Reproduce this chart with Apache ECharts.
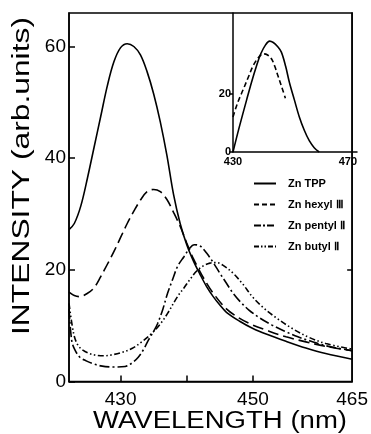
<!DOCTYPE html>
<html><head><meta charset="utf-8">
<script src="https://cdn.jsdelivr.net/npm/echarts@6/dist/echarts.min.js"></script>
<style>html,body{margin:0;padding:0;background:#fff}#c{width:371px;height:434px}</style>
</head><body><div id="c"></div>
<script>
// ---- main panel data (wavelength nm, intensity arb. units) ----
const wlTPP = [422.2, 423, 424, 425, 426, 427, 428, 429, 430, 431, 432, 433, 434, 435, 436, 437, 438, 439, 440, 441, 442, 443, 444, 445, 446, 448, 450, 452, 455, 458, 461, 465];
const valTPP = [27.2, 28.3, 31.5, 36.5, 42, 47.5, 53, 57.3, 59.8, 60.5, 60, 58.5, 55.5, 51.5, 46.5, 40.5, 33.5, 28.3, 24.5, 21.6, 19.2, 17, 15.2, 13.7, 12.4, 10.8, 9.5, 8.5, 7.2, 6, 5, 4];

const wlHex = [422.2, 423, 423.8, 425, 426, 427, 428, 429, 430, 431, 432, 433, 434, 435, 436, 437, 438, 439, 440, 441, 442, 443, 444, 446, 448, 450, 452, 455, 458, 461, 465];
const valHex = [16, 15.4, 15.2, 15.8, 16.8, 18.8, 21, 23.3, 25.8, 28.3, 30.5, 32.5, 34, 34.4, 34, 32.6, 30.3, 27.8, 24.8, 22, 19.7, 17.6, 15.8, 13, 11.3, 10.1, 9.2, 8, 7.1, 6.3, 5.5];

const wlPen = [422.2, 422.6, 423, 423.8, 424.8, 425.8, 427, 428.8, 430.7, 431.7, 432.7, 433.5, 434.2, 435, 435.6, 436.4, 437.1, 437.9, 438.6, 439.6, 440.4, 441.1, 442, 443, 444, 445, 446, 447, 448, 449.4, 451, 452.9, 454.8, 456.8, 458.8, 460.7, 462.7, 465];
const valPen = [13, 7.4, 5.9, 4.4, 3.7, 3.2, 2.8, 2.6, 2.7, 3.3, 4.4, 5.8, 7.4, 9, 10.4, 13, 15.8, 18.4, 20.6, 22.4, 23.8, 24.5, 24.3, 23, 21.3, 19.4, 17.6, 15.8, 14.4, 12.8, 11.4, 10.1, 9, 8, 7.2, 6.5, 6, 5.5];

const wlBut = [422.2, 422.9, 423.5, 424.3, 425.3, 426.3, 427.5, 428.8, 430.2, 431.7, 433.2, 434.7, 436, 437.1, 438.6, 439.6, 440.5, 441.5, 442.5, 443.5, 444.5, 445.5, 447, 448.5, 449.9, 451.5, 453.3, 455.8, 458.3, 461, 465];
const valBut = [14, 8.6, 6.6, 5.6, 5, 4.7, 4.6, 4.8, 5.2, 5.9, 7.1, 8.6, 10.3, 12.2, 15.2, 16.8, 18.3, 19.8, 20.7, 21.2, 21.3, 20.8, 19.4, 17.4, 15.2, 13.3, 11.6, 9.6, 8, 6.8, 5.8];

// ---- inset data ----
const wlInsetTPP = [430, 432, 434.4, 436, 437.6, 439, 440.5, 441.8, 443, 444.3, 445.6, 447, 448.2, 449.8, 451.4, 453, 454.6, 456.2, 457.8];
const valInsetTPP = [0, 8.5, 18, 24.2, 29.8, 34, 37, 38.3, 37.8, 36.5, 34.5, 29.5, 24, 18, 12.1, 7.5, 3.9, 1.5, 0];
const wlInsetHex = [430, 431.5, 433.3, 435, 436.5, 438, 439.7, 441, 442.4, 443.5, 444.5, 445.7, 446.9];
const valInsetHex = [12.1, 17, 21.6, 26, 29.8, 32.3, 33.9, 33.6, 32.2, 29.5, 26.3, 22.5, 18.6];

// ---- ticks / labels ----
const mainXTicks = [430, 440, 450];
const mainXLabels = [430, 450, 465];
const mainYLabels = [0, 20, 40, 60];
const insetXLabels = [430, 470];
const insetYLabels = [0, 20];
const names = ['Zn TPP', 'Zn hexyl Ⅲ', 'Zn pentyl Ⅱ', 'Zn butyl Ⅱ'];
const xTitle = 'WAVELENGTH (nm)';
const yTitle = 'INTENSITY (arb.units)';

const zip = (a, b) => a.map((v, i) => [v, b[i]]);
const FONT = '"Liberation Sans", Arial, sans-serif';

const dashes = {
  solid: 'solid',
  hex: [11, 5],
  pen: [10, 3, 2, 3],
  but: [6, 2.5, 1.5, 2.5, 1.5, 2.5],
  insetHex: [5, 3]
};

function mkLine(name, data, type, xi, yi) {
  return {
    name, type: 'line', data, xAxisIndex: xi, yAxisIndex: yi,
    symbol: 'none', smooth: 0.35, silent: true,
    itemStyle: { color: '#000' },
    lineStyle: { color: '#000', width: 1.6, type }
  };
}

function measure(text, font) {
  const c = document.createElement('canvas').getContext('2d');
  c.font = font;
  return c.measureText(text).width;
}
const xTitleSize = 23, yTitleSize = 23;
const xScale = 254 / measure(xTitle, xTitleSize + 'px "Liberation Sans"');
const yScale = 318 / measure(yTitle, yTitleSize + 'px "Liberation Sans"');

const chart = echarts.init(document.getElementById('c'), null, { renderer: 'canvas' });
chart.setOption({
  animation: false,
  backgroundColor: '#fff',
  grid: [
    { left: 69, top: 13, width: 288, height: 368.5, show: true, borderColor: '#000', borderWidth: 1.5, backgroundColor: 'transparent' },
    { left: 233, top: 13, width: 124, height: 139, show: false }
  ],
  xAxis: [
    {
      gridIndex: 0, type: 'value', min: 422.2, max: 465,
      axisLine: { lineStyle: { color: '#000', width: 1.5 } },
      axisTick: { inside: true, length: 6, customValues: mainXTicks, lineStyle: { color: '#000', width: 1.5 } },
      axisLabel: { customValues: mainXLabels, color: '#000', fontSize: 19, fontFamily: FONT, margin: 9 },
      splitLine: { show: false }
    },
    {
      gridIndex: 1, type: 'value', min: 430, max: 470,
      axisLine: { lineStyle: { color: '#000', width: 1.5 } },
      axisTick: { show: false },
      axisLabel: { customValues: insetXLabels, color: '#000', fontSize: 11, fontWeight: 'bold', fontFamily: FONT, margin: 4, alignMaxLabel: 'right' },
      splitLine: { show: false }
    }
  ],
  yAxis: [
    {
      gridIndex: 0, type: 'value', min: 0, max: 66, interval: 20,
      axisLine: { show: true, lineStyle: { color: '#000', width: 1.5 } },
      axisTick: { show: true, inside: true, length: 6, customValues: mainYLabels, lineStyle: { color: '#000', width: 1.5 } },
      axisLabel: { customValues: mainYLabels, color: '#000', fontSize: 19, fontFamily: FONT, margin: 3 },
      splitLine: { show: false }
    },
    {
      gridIndex: 0, type: 'value', min: 0, max: 66, position: 'right',
      axisLine: { show: true, lineStyle: { color: '#000', width: 1.5 } },
      axisTick: { show: true, inside: true, length: 5, customValues: [20], lineStyle: { color: '#000', width: 1.5 } },
      axisLabel: { show: false },
      splitLine: { show: false }
    },
    {
      gridIndex: 1, type: 'value', min: 0, max: 48,
      axisLine: { show: true, lineStyle: { color: '#000', width: 1.5 } },
      axisTick: { show: true, inside: false, length: 4, customValues: insetYLabels, lineStyle: { color: '#000', width: 1.5 } },
      axisLabel: { customValues: insetYLabels, color: '#000', fontSize: 11, fontWeight: 'bold', fontFamily: FONT, margin: 2 },
      splitLine: { show: false }
    }
  ],
  legend: {
    orient: 'vertical', left: 248, top: 173, itemWidth: 22, itemHeight: 10, itemGap: 10,
    selectedMode: false,
    itemStyle: { opacity: 0 },
    textStyle: { color: '#000', fontSize: 11, fontWeight: 'bold', fontFamily: FONT, padding: [0, 0, 0, 7] },
    data: [
      { name: names[0] },
      { name: names[1], lineStyle: { type: [5, 3] } },
      { name: names[2], lineStyle: { type: [7, 2, 2, 2] } },
      { name: names[3], lineStyle: { type: [5, 2, 1.5, 2, 1.5, 2] } }
    ]
  },
  series: [
    mkLine(names[0], zip(wlTPP, valTPP), dashes.solid, 0, 0),
    mkLine(names[1], zip(wlHex, valHex), dashes.hex, 0, 0),
    mkLine(names[2], zip(wlPen, valPen), dashes.pen, 0, 0),
    mkLine(names[3], zip(wlBut, valBut), dashes.but, 0, 0),
    mkLine('inset TPP', zip(wlInsetTPP, valInsetTPP), dashes.solid, 1, 2),
    mkLine('inset hexyl', zip(wlInsetHex, valInsetHex), dashes.insetHex, 1, 2)
  ],
  graphic: [
    {
      type: 'text', x: 220, y: 422, scaleX: xScale, silent: true,
      style: { text: xTitle, font: xTitleSize + 'px ' + FONT, fill: '#000', align: 'center', verticalAlign: 'middle', textAlign: 'center', textVerticalAlign: 'middle' }
    },
    {
      type: 'text', x: 23, y: 176, rotation: Math.PI / 2, scaleX: yScale, silent: true,
      style: { text: yTitle, font: yTitleSize + 'px ' + FONT, fill: '#000', align: 'center', verticalAlign: 'middle', textAlign: 'center', textVerticalAlign: 'middle' }
    }
  ]
});
</script>
</body></html>
